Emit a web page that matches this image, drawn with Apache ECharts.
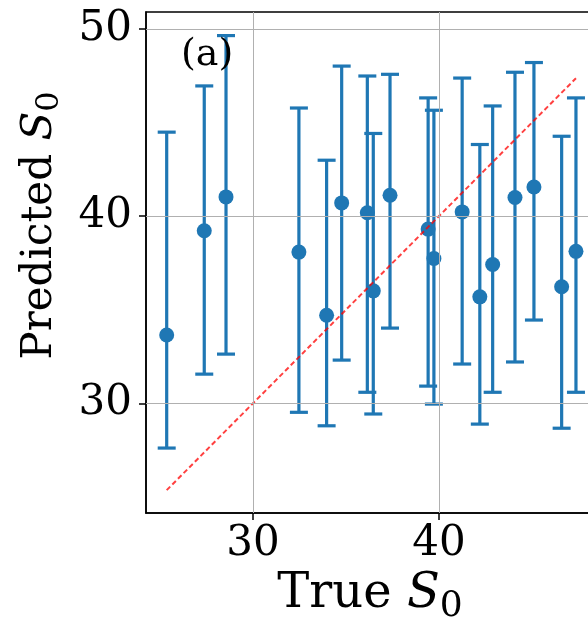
<!DOCTYPE html>
<html>
<head>
<meta charset="utf-8">
<script src="https://cdn.jsdelivr.net/npm/echarts@6/dist/echarts.min.js"></script>
<style>html,body{margin:0;padding:0;background:#fff;}#c{width:588px;height:620px;}</style>
</head>
<body>
<div id="c"></div>
<script>
const trueVals  = [25.36, 27.38, 28.55, 32.47, 33.96, 34.77, 36.15, 36.47, 37.37, 39.42, 39.73, 41.25, 42.20, 42.89, 44.09, 45.11, 46.60, 47.37];
const predVals  = [33.65, 39.22, 41.03, 38.08, 34.71, 40.71, 40.18, 36.01, 41.12, 39.31, 37.74, 40.23, 35.69, 37.42, 41.00, 41.56, 36.23, 38.12];
const upperVals = [44.49, 46.96, 49.65, 45.78, 42.99, 48.02, 47.49, 44.42, 47.58, 46.32, 45.66, 47.38, 43.83, 45.89, 47.69, 48.21, 44.27, 46.32];
const lowerVals = [27.61, 31.56, 32.63, 29.52, 28.80, 32.31, 30.59, 29.43, 34.02, 30.92, 29.96, 32.10, 28.89, 30.59, 32.21, 34.45, 28.67, 30.59];
const xTicks = [30, 40];
const yTicks = [30, 40, 50];
const panelLabel = '(a)';

const FONT = 'DejaVu Serif';
const BLUE = '#1f77b4';
const lo = Math.min(...trueVals), hi = Math.max(...trueVals);

function rich(size, sub, lh, subLh) {
  return {
    t: {fontFamily: FONT, fontSize: size, color: '#000', lineHeight: lh, verticalAlign: 'top'},
    s: {fontFamily: FONT, fontSize: size, fontStyle: 'italic', color: '#000', lineHeight: lh, verticalAlign: 'top'},
    b: {fontFamily: FONT, fontSize: sub, color: '#000', lineHeight: subLh, verticalAlign: 'bottom'}
  };
}

const chart = echarts.init(document.getElementById('c'), null, {renderer: 'canvas'});
chart.setOption({
  animation: false,
  backgroundColor: '#fff',
  grid: {left: 146, top: 12, width: 448, height: 501, outerBoundsMode: 'none', containLabel: false,
         show: true, borderColor: '#000', borderWidth: 1.5, backgroundColor: 'transparent'},
  xAxis: {
    type: 'value', min: 24.247, max: 48.34,
    name: '{t|True }{s|S}{b|0}', nameLocation: 'middle', nameGap: 58,
    nameTextStyle: {rich: rich(48, 36, 48, 54)},
    axisLine: {show: true, onZero: false, lineStyle: {color: '#000', width: 1.5}},
    axisTick: {show: true, customValues: xTicks, length: 7, lineStyle: {color: '#000', width: 1.5}},
    axisLabel: {customValues: xTicks, fontFamily: FONT, fontSize: 42, color: '#000', margin: 10},
    splitLine: {show: false}
  },
  yAxis: {
    type: 'value', min: 24.14, max: 50.91,
    name: '{t|Predicted }{s|S}{b|0}', nameLocation: 'middle', nameGap: 80,
    nameTextStyle: {rich: rich(42, 32, 42, 47), padding: [0, 0, 0, 74]},
    axisLine: {show: true, onZero: false, lineStyle: {color: '#000', width: 1.5}},
    axisTick: {show: true, customValues: yTicks, length: 7, lineStyle: {color: '#000', width: 1.5}},
    axisLabel: {customValues: yTicks, fontFamily: FONT, fontSize: 42, color: '#000', margin: 14},
    splitLine: {show: false}
  },
  graphic: [{
    type: 'text', left: 181, top: 36, z: 10,
    style: {text: panelLabel, fontFamily: FONT, fontSize: 38, fill: '#000'}
  }],
  series: [
    {
      type: 'line', data: [], z: 0, silent: true,
      markLine: {
        silent: true, symbol: ['none', 'none'], label: {show: false},
        lineStyle: {color: '#b0b0b0', width: 1, type: 'solid'},
        data: xTicks.map(v => ({xAxis: v})).concat(yTicks.map(v => ({yAxis: v})))
      }
    },
    {
      type: 'custom', z: 2,
      data: trueVals.map((x, i) => [x, lowerVals[i], upperVals[i]]),
      encode: {x: 0, y: [1, 2]},
      renderItem: function (params, api) {
        const x = api.value(0);
        const pLo = api.coord([x, api.value(1)]);
        const pHi = api.coord([x, api.value(2)]);
        const h = 9;
        const st = {stroke: BLUE, lineWidth: 3.2};
        return {type: 'group', children: [
          {type: 'line', shape: {x1: pLo[0], y1: pLo[1], x2: pHi[0], y2: pHi[1]}, style: st},
          {type: 'line', shape: {x1: pLo[0] - h, y1: pLo[1], x2: pLo[0] + h, y2: pLo[1]}, style: st},
          {type: 'line', shape: {x1: pHi[0] - h, y1: pHi[1], x2: pHi[0] + h, y2: pHi[1]}, style: st}
        ]};
      }
    },
    {
      type: 'scatter', z: 3, symbol: 'circle', symbolSize: 15,
      itemStyle: {color: BLUE, opacity: 1},
      data: trueVals.map((x, i) => [x, predVals[i]])
    },
    {
      type: 'line', z: 4, symbol: 'none',
      lineStyle: {color: 'rgba(255,0,0,0.75)', width: 2, type: [5, 3]},
      data: [[lo, lo], [hi, hi]]
    }
  ]
});
</script>
</body>
</html>
